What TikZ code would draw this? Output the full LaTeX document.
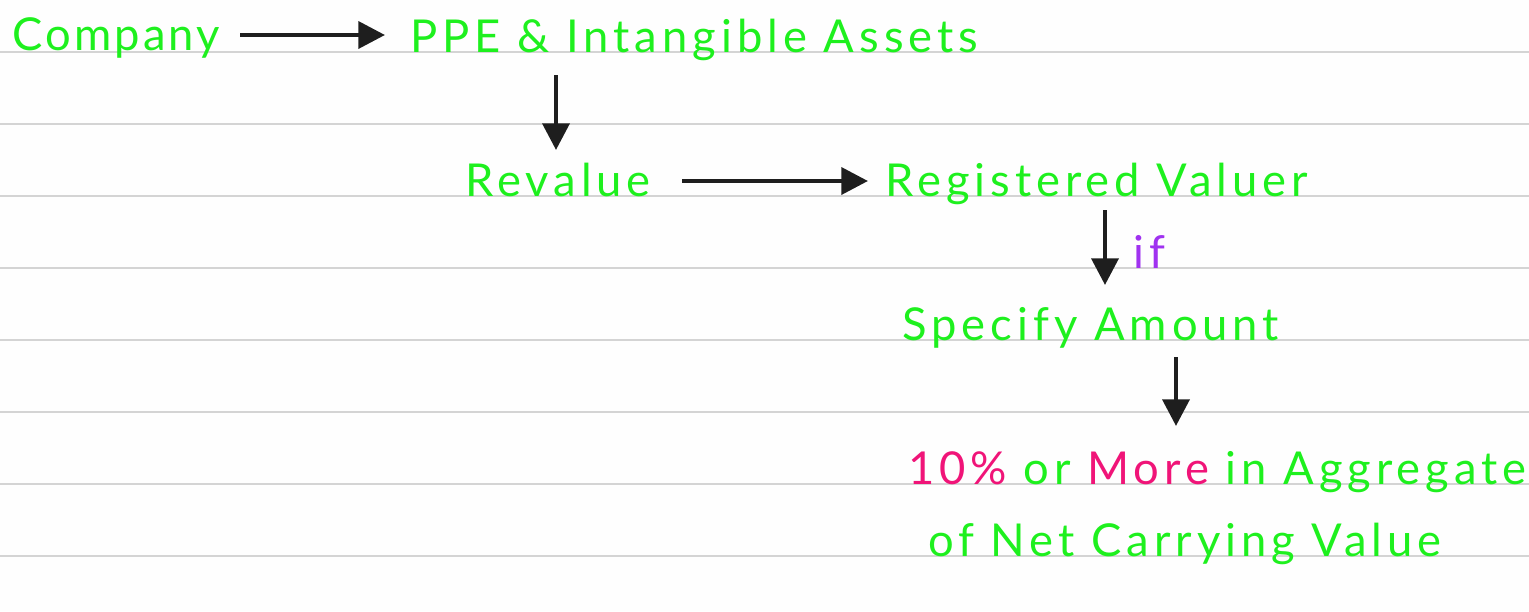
\documentclass[tikz,border=0pt]{standalone}
\usepackage{fontspec}
\setmainfont{Lato}[LetterSpace=11]
\usetikzlibrary{arrows.meta}
\definecolor{hgreen}{RGB}{30,240,30}
\definecolor{hpink}{RGB}{240,20,120}
\definecolor{hpurple}{RGB}{160,50,240}
\definecolor{ruled}{RGB}{212,212,212}
\definecolor{ink}{RGB}{30,30,30}
\definecolor{paper}{RGB}{254,254,254}
\tikzset{
  txt/.style={anchor=base west, inner sep=0pt, text=hgreen, font=\fontsize{34}{37}\selectfont},
  arr/.style={draw=ink, line width=3.5pt, -{Triangle[length=20pt,width=20pt]}},
  rule/.style={draw=ruled, line width=1.5pt}
}
\begin{document}
\begin{tikzpicture}[x=0.75pt,y=-0.75pt]
\fill[paper] (0,0) rectangle (1529,611);
\useasboundingbox (0,0) rectangle (1529,611);
\foreach \k in {0,...,7} {\draw[rule] (0,52+72*\k) -- (1529,52+72*\k);}
\node[txt] (company) at (12,50) {\addfontfeatures{LetterSpace=7}Company};
\node[txt] (ppe) at (410,52) {PPE \& Intangible Assets};
\node[txt] (revalue) at (465,196) {Revalue};
\node[txt] (reg) at (885,196) {Registered Valuer};
\node[txt, text=hpurple] (if) at (1133,268) {if};
\node[txt] (spec) at (902,340) {Specify Amount};
\node[txt] (line1) at (908,484) {\textcolor{hpink}{10\%} or \textcolor{hpink}{More} in Aggregate};
\node[txt] (line2) at (928,556) {of Net Carrying Value};
\draw[arr] ([shift={(228,-15)}]company.base west) -- ([shift={(-25,-17)}]ppe.base west);
\draw[arr] ([shift={(146,23)}]ppe.base west) -- ([shift={(91,-46)}]revalue.base west);
\draw[arr] ([shift={(217,-15)}]revalue.base west) -- ([shift={(-17,-15)}]reg.base west);
\draw[arr] ([shift={(220,14)}]reg.base west) -- ([shift={(203,-55)}]spec.base west);
\draw[arr] ([shift={(274,17)}]spec.base west) -- ([shift={(268,-58)}]line1.base west);
\end{tikzpicture}
\end{document}
